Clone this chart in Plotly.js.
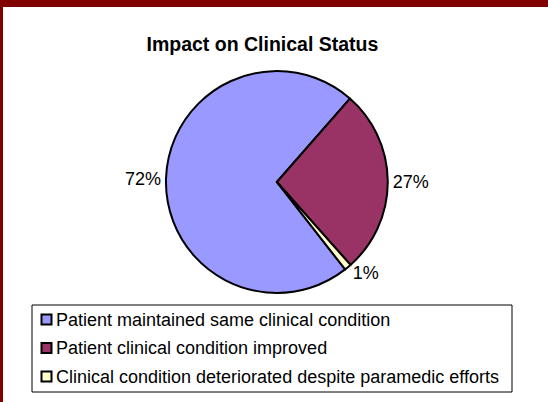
<!DOCTYPE html>
<html>
<head>
<meta charset="utf-8">
<script src="https://cdn.plot.ly/plotly-3.0.1.min.js"></script>
<style>
  html, body { margin: 0; padding: 0; background: #ffffff; }
  #frame { position: absolute; left: 0; top: 0; width: 545px; height: 395px;
           border-top: 7px solid #800000; border-left: 3px solid #800000; background: #ffffff; }
  #chart { width: 545px; height: 395px; }
</style>
</head>
<body>
<div id="frame"><div id="chart"></div></div>
<script>
const categories = [
  "Patient maintained same clinical condition",
  "Patient clinical condition improved",
  "Clinical condition deteriorated despite paramedic efforts"
];
const percentages = [72, 27, 1];
const sliceColors = ["#9999FF", "#993366", "#FFFFCC"];
const chartTitle = "Impact on Clinical Status";

const W = 545, H = 395;
const FONT = "Liberation Sans, Arial, sans-serif";
const px = v => v / W;          // pixel -> paper x
const py = v => 1 - v / H;      // pixel (from top) -> paper y

const trace = {
  type: "pie",
  labels: categories,
  values: percentages,
  sort: false,
  direction: "clockwise",
  rotation: 142,
  marker: { colors: sliceColors, line: { color: "#000000", width: 2 } },
  textinfo: "percent",
  textposition: "outside",
  texttemplate: "%{value}%",
  outsidetextfont: { family: FONT, size: 18, color: "#000000" },
  domain: { x: [0.299, 0.706], y: [0.276, 0.838] },
  hoverinfo: "none",
  showlegend: false
};

// Custom legend box built from the category / colour arrays
const legendLeft = 29, legendRight = 509, legendTop = 298, legendBottom = 385;
const rowY0 = 312.5, rowStep = 28.5;
const shapes = [{
  type: "rect", xref: "paper", yref: "paper",
  x0: px(legendLeft), x1: px(legendRight), y0: py(legendTop), y1: py(legendBottom),
  line: { color: "#000000", width: 1 }, fillcolor: "#ffffff", layer: "below"
}];
const annotations = [];
categories.forEach((cat, i) => {
  const cy = rowY0 + i * rowStep;
  shapes.push({
    type: "rect", xref: "paper", yref: "paper",
    x0: px(38.5), x1: px(48.5), y0: py(cy - 5), y1: py(cy + 5),
    line: { color: "#000000", width: 2 }, fillcolor: sliceColors[i]
  });
  annotations.push({
    xref: "paper", yref: "paper", x: px(50.5), y: py(cy),
    xanchor: "left", yanchor: "middle", showarrow: false,
    text: cat, font: { family: FONT, size: 18, color: "#000000" }
  });
});

const layout = {
  width: W,
  height: H,
  margin: { l: 0, r: 0, t: 0, b: 0 },
  paper_bgcolor: "#ffffff",
  font: { family: FONT, color: "#000000" },
  title: {
    text: "<b>" + chartTitle + "</b>",
    font: { family: FONT, size: 19.5, color: "#000000" },
    x: 0.476, xref: "paper", xanchor: "center",
    y: 1 - 37.5 / H, yref: "container", yanchor: "middle"
  },
  showlegend: false,
  shapes: shapes,
  annotations: annotations
};

Plotly.newPlot("chart", [trace], layout, { staticPlot: true, displayModeBar: false });
</script>
</body>
</html>
